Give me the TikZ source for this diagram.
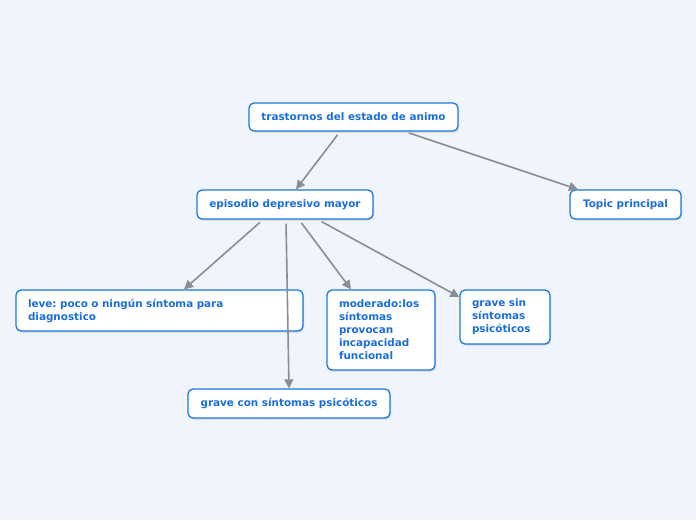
\documentclass[tikz,border=0pt]{standalone}
\usepackage{fontspec}
\setmainfont{DejaVu Sans}
\usetikzlibrary{arrows.meta,shadows}
\definecolor{bgcol}{HTML}{F0F4FC}
\definecolor{boxblue}{HTML}{1C78DC}
\definecolor{txtblue}{HTML}{1A6EDC}
\definecolor{linegray}{HTML}{8A8D94}
\frenchspacing
\begin{document}
\begin{tikzpicture}
		[x=1pt, y=-1pt,
		block/.style ={rectangle, draw=boxblue, line width=1.3pt, fill=white, rounded corners=5pt,
		text=txtblue, font=\bfseries\fontsize{10.4}{13}\selectfont, align=center, inner xsep=12pt,
		drop shadow={opacity=0.25, shadow xshift=1pt, shadow yshift=-1.5pt}},
		leftblock/.style ={block, align=left},
		line/.style ={draw=linegray, line width=1.6pt, -{Triangle[length=9pt,width=9pt]}, shorten <=4pt},
		]

		\fill[bgcol] (0,0) rectangle (696,520);
		\useasboundingbox (0,0) rectangle (696,520);

		\draw (353.5,117) node[block, minimum width=209pt, minimum height=28pt] (TR) {trastornos del estado de animo};
		\draw (285,204.5) node[block, minimum width=176pt, minimum height=29pt] (EP) {episodio depresivo mayor};
		\draw (625.5,204.5) node[block, minimum width=111pt, minimum height=29pt] (TP) {Topic principal};
		\draw (159.5,310.5) node[leftblock, text width=263pt, minimum height=41pt] (LV) {leve: poco o ningún síntoma para\\diagnostico};
		\draw (381,330) node[leftblock, text width=84pt, minimum height=80pt] (MD) {moderado:los\\síntomas\\provocan\\incapacidad\\funcional};
		\draw (505,317) node[leftblock, text width=66pt, minimum height=54pt] (GS) {grave sin\\síntomas\\psicóticos};
		\draw (289,403.5) node[block, minimum width=202pt, minimum height=29pt] (GC) {grave con síntomas psicóticos};

		\path[line]
		([xshift=-13.5pt]TR.south) -- ([xshift=11pt]EP.north);
		\path[line]
		([xshift=51.5pt]TR.south) -- ([xshift=-47.5pt]TP.north);
		\path[line]
		([xshift=-22pt]EP.south) -- ([xshift=24.5pt]LV.north);
		\path[line]
		([xshift=1pt]EP.south) -- (GC.north);
		\path[line]
		([xshift=14pt]EP.south) -- ([xshift=-30pt]MD.north);
		\path[line]
		([xshift=33pt]EP.south) -- ([yshift=20pt]GS.west);

	\end{tikzpicture}
\end{document}
